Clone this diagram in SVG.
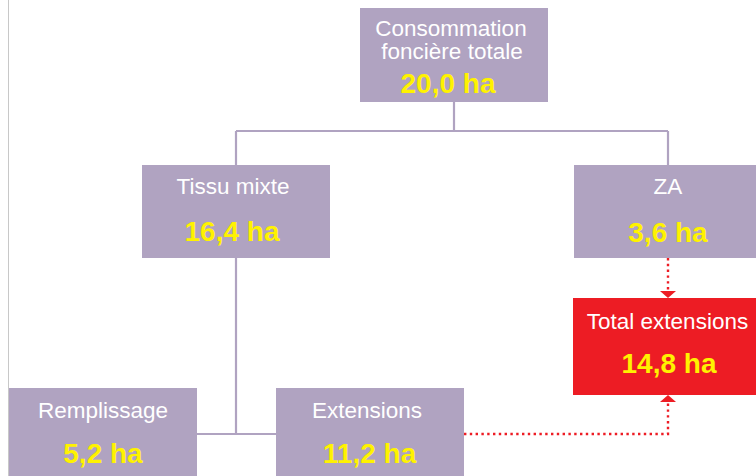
<svg xmlns="http://www.w3.org/2000/svg" width="756" height="476" viewBox="0 0 756 476">
  <style>
    .box { fill: #B0A3C1; }
    .red { fill: #ED1C24; }
    .lbl { font-family: "Liberation Sans", Arial, sans-serif; font-size: 22.5px; fill: #FFFFFF; text-anchor: middle; }
    .num { font-family: "Liberation Sans", Arial, sans-serif; font-size: 28px; font-weight: bold; fill: #FFF200; text-anchor: middle; }
    .tree { fill: none; stroke: #B0A3C1; stroke-width: 2.2; }
    .dot { fill: none; stroke: #ED1C24; stroke-width: 2.4; stroke-dasharray: 2.4 3.4; }
  </style>
  <defs>
    <marker id="arr" viewBox="0 0 7 16" refX="7" refY="8" markerWidth="7" markerHeight="16" markerUnits="userSpaceOnUse" orient="auto">
      <path d="M0,0 L7,8 L0,16 Z" fill="#ED1C24"/>
    </marker>
  </defs>
  <rect width="756" height="476" fill="#FFFFFF"/>
  <line x1="8.5" y1="0" x2="8.5" y2="476" stroke="#C8C8C8" stroke-width="1"/>

  <g id="connectors">
    <path class="tree" d="M454,102 V131 M236,131 H668 M236,131 V165 M668,131 V165"/>
    <path class="tree" d="M236,258 V434 M197,434 H276"/>
    <path class="dot" d="M668,258 V298" marker-end="url(#arr)"/>
    <path class="dot" d="M464,434 H668 V395" marker-end="url(#arr)"/>
  </g>

  <g id="node-total">
    <rect class="box" x="360" y="8" width="188" height="94"/>
    <text class="lbl" x="451" y="36">Consommation</text>
    <text class="lbl" x="452" y="59">foncière totale</text>
    <text class="num" x="448" y="93">20,0 ha</text>
  </g>
  <g id="node-tissu">
    <rect class="box" x="142" y="165" width="188" height="93"/>
    <text class="lbl" x="233" y="194">Tissu mixte</text>
    <text class="num" x="232" y="241">16,4 ha</text>
  </g>
  <g id="node-za">
    <rect class="box" x="574" y="165" width="188" height="93"/>
    <text class="lbl" x="668" y="194">ZA</text>
    <text class="num" x="668" y="242">3,6 ha</text>
  </g>
  <g id="node-total-extensions">
    <rect class="red" x="573" y="298" width="190" height="97"/>
    <text class="lbl" x="667.5" y="329">Total extensions</text>
    <text class="num" x="669" y="373">14,8 ha</text>
  </g>
  <g id="node-remplissage">
    <rect class="box" x="9" y="388" width="188" height="92"/>
    <text class="lbl" x="103" y="418">Remplissage</text>
    <text class="num" x="103" y="463">5,2 ha</text>
  </g>
  <g id="node-extensions">
    <rect class="box" x="276" y="388" width="188" height="92"/>
    <text class="lbl" x="367" y="418">Extensions</text>
    <text class="num" x="369.5" y="463">11,2 ha</text>
  </g>
</svg>
